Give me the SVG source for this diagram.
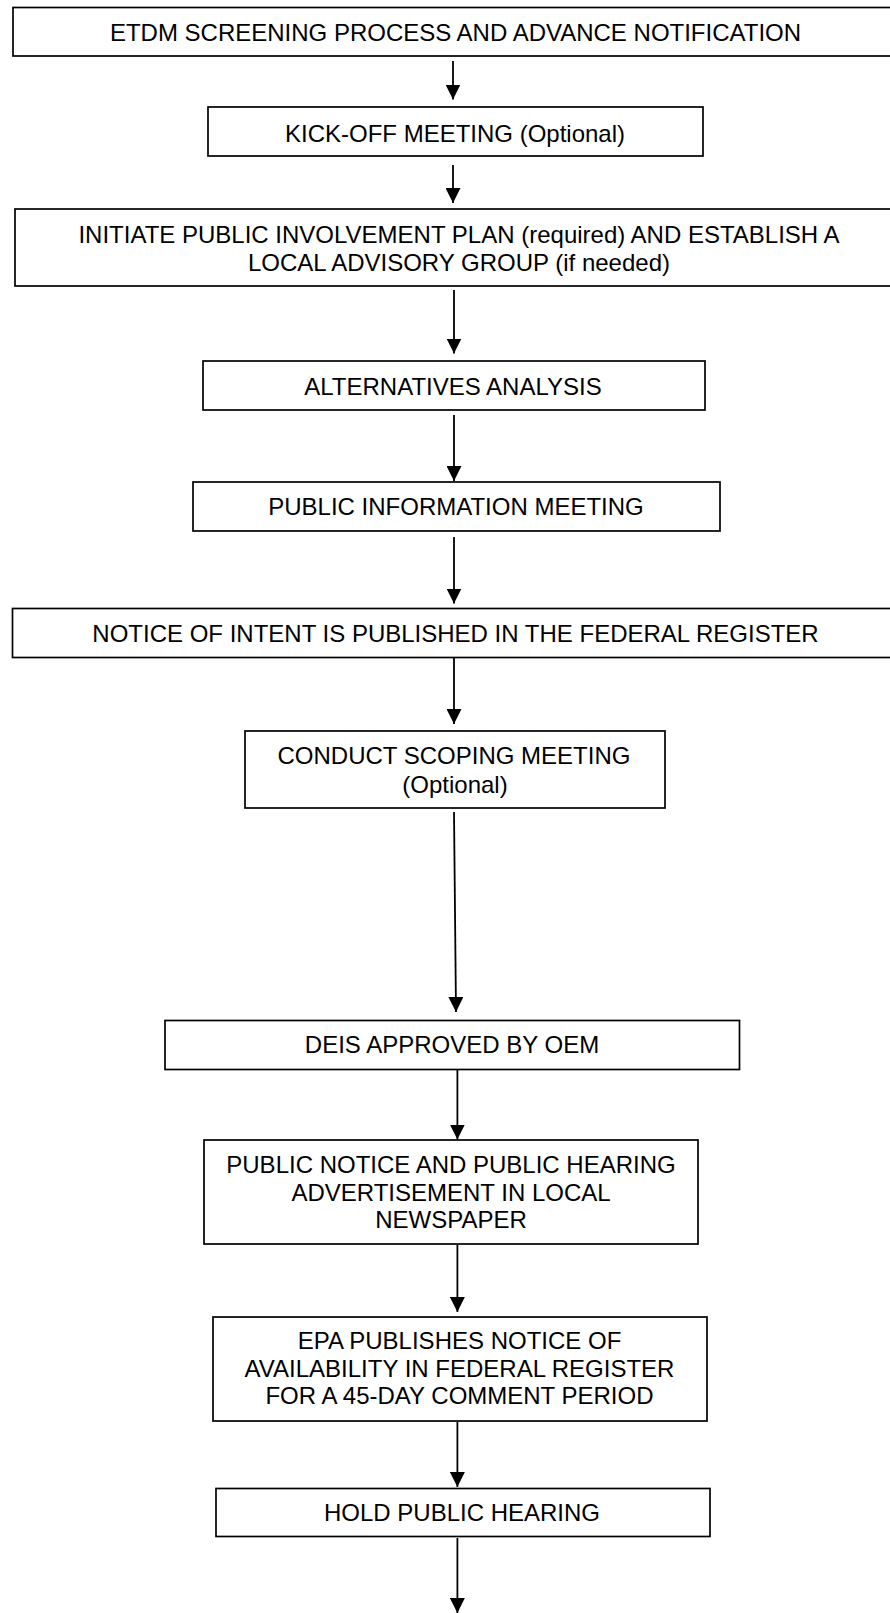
<svg xmlns="http://www.w3.org/2000/svg" width="890" height="1613" viewBox="0 0 890 1613">
<defs>
<style>
.box{fill:#fff;stroke:#000;stroke-width:1.7}
.t{font-family:"Liberation Sans",Arial,sans-serif;font-size:24px;fill:#000;text-anchor:middle}
.c{stroke:#000;stroke-width:1.8;fill:none;marker-end:url(#ah)}
</style>
<marker id="ah" viewBox="0 0 15 15" refX="15" refY="7.5" markerWidth="15" markerHeight="15" markerUnits="userSpaceOnUse" orient="auto">
<path d="M0,0 L15,7.5 L0,15 z" fill="#000"/>
</marker>
</defs>
<rect width="890" height="1613" fill="#fff"/>
<g id="connectors">
<line class="c" x1="453" y1="61" x2="453" y2="99.5"/>
<line class="c" x1="453" y1="165" x2="453" y2="203"/>
<line class="c" x1="454" y1="290" x2="454" y2="353.5"/>
<line class="c" x1="454" y1="415" x2="454" y2="481"/>
<line class="c" x1="454" y1="537" x2="454" y2="603.5"/>
<line class="c" x1="454" y1="658" x2="454" y2="724"/>
<line class="c" x1="454" y1="812" x2="456" y2="1012"/>
<line class="c" x1="457.4" y1="1070" x2="457.4" y2="1139.5"/>
<line class="c" x1="457.4" y1="1245" x2="457.4" y2="1312"/>
<line class="c" x1="457.4" y1="1422" x2="457.4" y2="1487"/>
<line class="c" x1="457.4" y1="1538" x2="457.4" y2="1613"/>
</g>
<g id="n1">
<rect class="box" x="13" y="7.5" width="900" height="48.5"/>
<text class="t" x="455.5" y="40.7">ETDM SCREENING PROCESS AND ADVANCE NOTIFICATION</text>
</g>
<g id="n2">
<rect class="box" x="208" y="107" width="495" height="49"/>
<text class="t" x="455" y="141.7">KICK-OFF MEETING (Optional)</text>
</g>
<g id="n3">
<rect class="box" x="15" y="209" width="900" height="77"/>
<text class="t" x="459" y="243.3">INITIATE PUBLIC INVOLVEMENT PLAN (required) AND ESTABLISH A</text>
<text class="t" x="459" y="270.5">LOCAL ADVISORY GROUP (if needed)</text>
</g>
<g id="n4">
<rect class="box" x="203" y="361" width="502" height="49"/>
<text class="t" x="453" y="395">ALTERNATIVES ANALYSIS</text>
</g>
<g id="n5">
<rect class="box" x="193" y="482" width="527" height="49"/>
<text class="t" x="456" y="515">PUBLIC INFORMATION MEETING</text>
</g>
<g id="n6">
<rect class="box" x="12.5" y="608.5" width="900" height="49"/>
<text class="t" x="455.5" y="641.7">NOTICE OF INTENT IS PUBLISHED IN THE FEDERAL REGISTER</text>
</g>
<g id="n7">
<rect class="box" x="245" y="731" width="420" height="77"/>
<text class="t" x="454" y="764">CONDUCT SCOPING MEETING</text>
<text class="t" x="455" y="792.7">(Optional)</text>
</g>
<g id="n8">
<rect class="box" x="165" y="1020.5" width="574.5" height="49"/>
<text class="t" x="452" y="1053.3">DEIS APPROVED BY OEM</text>
</g>
<g id="n9">
<rect class="box" x="204" y="1140" width="494" height="104"/>
<text class="t" x="451" y="1172.7">PUBLIC NOTICE AND PUBLIC HEARING</text>
<text class="t" x="451" y="1200.5">ADVERTISEMENT IN LOCAL</text>
<text class="t" x="451" y="1227.5">NEWSPAPER</text>
</g>
<g id="n10">
<rect class="box" x="213" y="1317" width="494" height="104"/>
<text class="t" x="459.5" y="1349.3">EPA PUBLISHES NOTICE OF</text>
<text class="t" x="459.5" y="1376.7">AVAILABILITY IN FEDERAL REGISTER</text>
<text class="t" x="459.5" y="1404">FOR A 45-DAY COMMENT PERIOD</text>
</g>
<g id="n11">
<rect class="box" x="216" y="1488.5" width="494" height="48"/>
<text class="t" x="462" y="1520.7">HOLD PUBLIC HEARING</text>
</g>
</svg>
